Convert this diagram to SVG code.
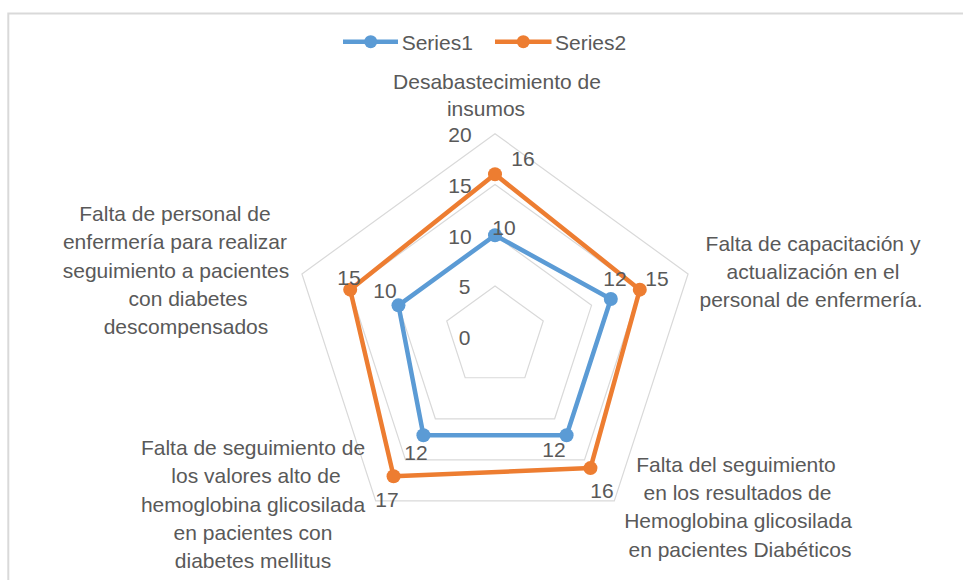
<svg xmlns="http://www.w3.org/2000/svg" width="963" height="580" viewBox="0 0 963 580">
<style>
text{font-family:"Liberation Sans",Arial,sans-serif;font-size:21px;fill:#595959}
.c{text-anchor:middle}
.r{text-anchor:end}
.grid{fill:none;stroke:#d9d9d9;stroke-width:1.2}
.s1{fill:none;stroke:#5b9bd5;stroke-width:4.5;stroke-linejoin:round}
.s2{fill:none;stroke:#ed7d31;stroke-width:4.5;stroke-linejoin:round}
.m1{fill:#5b9bd5}
.m2{fill:#ed7d31}
</style>
<rect width="963" height="580" fill="#ffffff"/>
<path d="M8.3,580 V13.5 H963" fill="none" stroke="#d9d9d9" stroke-width="2"/>
<g id="grid">
<polygon class="grid" points="495,285.95 543.27,321.02 524.83,377.76 465.17,377.76 446.73,321.02"/>
<polygon class="grid" points="495,235.2 591.54,305.34 554.66,418.81 435.34,418.81 398.46,305.34"/>
<polygon class="grid" points="495,184.45 639.8,289.65 584.49,459.87 405.51,459.87 350.2,289.65"/>
<polygon class="grid" points="495,133.7 688.07,273.97 614.32,500.93 375.68,500.93 301.93,273.97"/>
</g>
<g id="axis-labels">
<text class="r" x="471.7" y="141.5">20</text>
<text class="r" x="471.7" y="193">15</text>
<text class="r" x="471.7" y="243.5">10</text>
<text class="r" x="470.5" y="294">5</text>
<text class="r" x="470.5" y="345">0</text>
</g>
<g id="connectors">
<polygon id="series1" class="s1" points="495,235.2 610.84,299.06 566.59,435.24 423.41,435.24 398.46,305.34"/>
<polygon id="series2" class="s2" points="495,174.3 639.8,289.65 590.46,468.08 393.58,476.29 350.2,289.65"/>
</g>
<g id="markers">
<circle class="m1" cx="495" cy="235.2" r="7"/>
<circle class="m1" cx="610.84" cy="299.06" r="7"/>
<circle class="m1" cx="566.59" cy="435.24" r="7"/>
<circle class="m1" cx="423.41" cy="435.24" r="7"/>
<circle class="m1" cx="398.46" cy="305.34" r="7"/>
<circle class="m2" cx="495" cy="174.3" r="7"/>
<circle class="m2" cx="639.8" cy="289.65" r="7"/>
<circle class="m2" cx="590.46" cy="468.08" r="7"/>
<circle class="m2" cx="393.58" cy="476.29" r="7"/>
<circle class="m2" cx="350.2" cy="289.65" r="7"/>
</g>
<g id="data-labels">
<text class="c" x="504" y="235">10</text>
<text class="c" x="615" y="285.5">12</text>
<text class="c" x="554" y="457">12</text>
<text class="c" x="416" y="460">12</text>
<text class="c" x="385" y="298.3">10</text>
<text class="c" x="523" y="165.5">16</text>
<text class="c" x="657" y="285.5">15</text>
<text class="c" x="602" y="498.3">16</text>
<text class="c" x="387" y="507">17</text>
<text class="c" x="349" y="285">15</text>
</g>
<g id="legend">
<line x1="343" y1="41.7" x2="398" y2="41.7" stroke="#5b9bd5" stroke-width="4.5"/>
<circle class="m1" cx="370.7" cy="41.7" r="6.5"/>
<text x="401.7" y="49.5">Series1</text>
<line x1="495" y1="41.7" x2="551.5" y2="41.7" stroke="#ed7d31" stroke-width="4.5"/>
<circle class="m2" cx="523.3" cy="41.7" r="6.5"/>
<text x="555" y="49.5">Series2</text>
</g>
<g id="cat-top">
<text class="c" x="497" y="89">Desabastecimiento de</text>
<text class="c" x="486" y="116">insumos</text>
</g>
<g id="cat-right">
<text class="c" x="813" y="250.5">Falta de capacitación y</text>
<text class="c" x="813" y="278.8">actualización en el</text>
<text class="c" x="811" y="307">personal de enfermería.</text>
</g>
<g id="cat-bottom-right">
<text class="c" x="736" y="471.7">Falta del seguimiento</text>
<text class="c" x="737.5" y="500">en los resultados de</text>
<text class="c" x="738" y="528.3">Hemoglobina glicosilada</text>
<text class="c" x="740" y="556.6">en pacientes Diabéticos</text>
</g>
<g id="cat-bottom-left">
<text class="c" x="253" y="455">Falta de seguimiento de</text>
<text class="c" x="256" y="483.3">los valores alto de</text>
<text class="c" x="253" y="511.6">hemoglobina glicosilada</text>
<text class="c" x="253" y="540">en pacientes con</text>
<text class="c" x="253" y="568.3">diabetes mellitus</text>
</g>
<g id="cat-left">
<text class="c" x="175" y="221">Falta de personal de</text>
<text class="c" x="175" y="249.3">enfermería para realizar</text>
<text class="c" x="176" y="277.6">seguimiento a pacientes</text>
<text class="c" x="188" y="306">con diabetes</text>
<text class="c" x="186" y="334.3">descompensados</text>
</g>
</svg>
